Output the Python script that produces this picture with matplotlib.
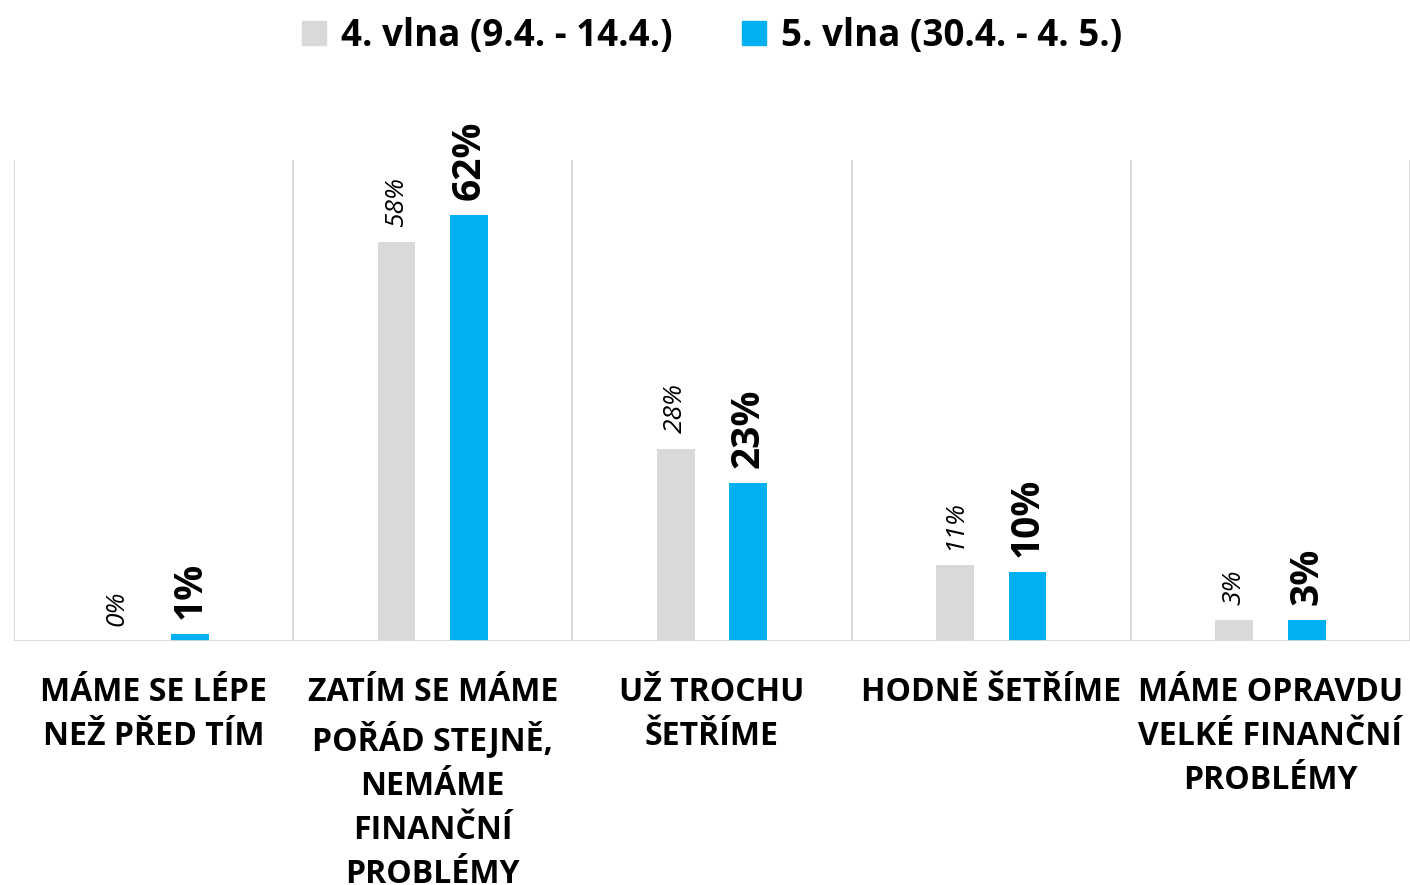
import matplotlib
matplotlib.use("Agg")
import matplotlib.pyplot as plt
from matplotlib.patches import Patch
import numpy as np

categories = ["MÁME SE LÉPE\nNEŽ PŘED TÍM",
              "ZATÍM SE MÁME\nPOŘÁD STEJNĚ,\nNEMÁME\nFINANČNÍ\nPROBLÉMY",
              "UŽ TROCHU\nŠETŘÍME",
              "HODNĚ ŠETŘÍME",
              "MÁME OPRAVDU\nVELKÉ FINANČNÍ\nPROBLÉMY"]
series_names = ["4. vlna (9.4. - 14.4.)", "5. vlna (30.4. - 4. 5.)"]
wave4 = [0, 58, 28, 11, 3]
wave5 = [1, 62, 23, 10, 3]

GREY = "#D9D9D9"
BLUE = "#00B0F0"
FONT = "Open Sans"

plt.rcParams['font.family'] = [FONT, 'DejaVu Sans']

fig = plt.figure(figsize=(14.1, 8.85), dpi=100)
ax = fig.add_axes([14/1410, (885-641)/885, 1 - 14/1410, (641-160)/885])

x = np.arange(len(categories))
w = 0.136
off = 0.13
ax.bar(x - off, wave4, width=w, color=GREY, zorder=3)
ax.bar(x + off, wave5, width=w, color=BLUE, zorder=3)

ax.set_xlim(-0.5, len(categories) - 0.5)
ax.set_ylim(0, 70)

for b in np.arange(-0.5, len(categories), 1.0):
    ax.axvline(b, color=GREY, lw=1.5, zorder=1)
ax.axhline(0, color=GREY, lw=2, zorder=4)

for s in ax.spines.values():
    s.set_visible(False)
ax.set_yticks([])
ax.set_xticks(x)
ax.set_xticklabels(categories, fontsize=23, fontweight='bold', linespacing=1.45, va='top')
ax.tick_params(axis='x', length=0, pad=25)

for xi, v in zip(x, wave4):
    ax.annotate(f"{v}%", (xi - off, v), xytext=(0, 11), textcoords='offset points',
                rotation=90, ha='center', va='bottom', fontsize=19, style='italic')
for xi, v in zip(x, wave5):
    ax.annotate(f"{v}%", (xi + off, v), xytext=(0, 11), textcoords='offset points',
                rotation=90, ha='center', va='bottom', fontsize=28, fontweight='bold')

handles = [Patch(color=GREY), Patch(color=BLUE)]
fig.legend(handles, series_names, loc='center', bbox_to_anchor=(0.505, 1 - 36/885),
           ncol=2, frameon=False, prop={'family': FONT, 'weight': 'bold', 'size': 26.5},
           handlelength=0.65, handleheight=0.65, handletextpad=0.4, columnspacing=1.9)

fig.savefig("out.png", dpi=100)
